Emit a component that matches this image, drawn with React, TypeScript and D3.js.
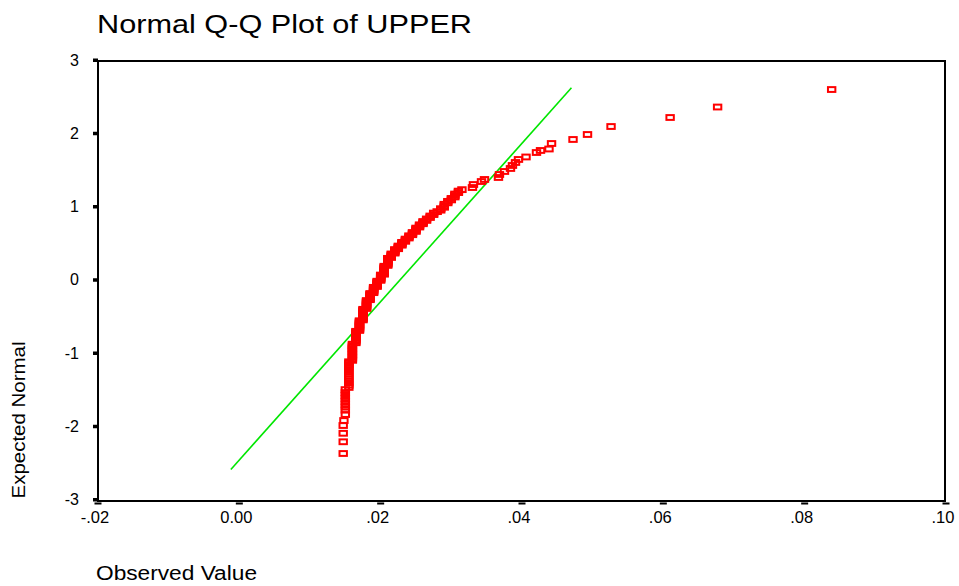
import * as d3 from 'd3';

const observed = [
  // lower tail
  0.0147, 0.0147, 0.0147, 0.0147, 0.0148, 0.015,
  // dense part
  0.015, 0.015, 0.015, 0.015, 0.015, 0.015, 0.015, 0.015,
  0.0155, 0.0155, 0.0155, 0.0155, 0.0155, 0.0155, 0.0155, 0.0155, 0.0155, 0.0155,
  0.0155, 0.0155, 0.0155, 0.0155,
  0.016, 0.016, 0.016, 0.016, 0.016, 0.016, 0.016, 0.016, 0.016, 0.016, 0.016, 0.016,
  0.0165, 0.0165, 0.0165, 0.0165,
  0.0165, 0.0165, 0.0165, 0.0165, 0.0165, 0.0165, 0.0165, 0.0165,
  0.017, 0.017, 0.017, 0.017, 0.017, 0.017, 0.017, 0.017, 0.017, 0.017, 0.017, 0.017,
  0.0175, 0.0175, 0.0175, 0.0175, 0.0175, 0.0175, 0.0175, 0.0175, 0.0175, 0.0175, 0.0175, 0.0175, 0.0175,
  0.018, 0.018, 0.018, 0.018, 0.018, 0.018, 0.018, 0.018, 0.018, 0.018,
  0.0185, 0.0185, 0.0185, 0.0185, 0.0185, 0.0185, 0.0185, 0.0185,
  0.019, 0.019, 0.019, 0.019, 0.019, 0.019, 0.019,
  0.0195, 0.0195, 0.0195, 0.0195, 0.0195, 0.0195, 0.0195,
  0.02, 0.02, 0.02, 0.02, 0.02, 0.02, 0.02,
  0.0205, 0.0205, 0.0205, 0.0205, 0.0205, 0.0205, 0.0205, 0.0205, 0.0205, 0.0205,
  0.021, 0.021, 0.021, 0.021, 0.021, 0.021, 0.021, 0.021, 0.021,
  0.0215, 0.0215, 0.0215, 0.0215, 0.0215,
  0.022, 0.022, 0.022, 0.022, 0.022,
  0.0225, 0.0225, 0.0225, 0.0225,
  0.023, 0.023, 0.023,
  0.023, 0.0235, 0.0235, 0.0235, 0.024, 0.024, 0.024, 0.0245, 0.0245, 0.0245,
  0.025, 0.025, 0.025, 0.025, 0.0255, 0.0255, 0.0255, 0.026, 0.026, 0.026,
  0.0265, 0.0265, 0.027, 0.027, 0.0275, 0.0275, 0.028, 0.0285, 0.0285,
  0.029, 0.029, 0.029, 0.0295, 0.0295, 0.03, 0.03, 0.0305, 0.0305, 0.0305,
  0.031, 0.031, 0.0315,
  // upper tail
  0.03299, 0.03313, 0.03427, 0.03469, 0.03667, 0.03681, 0.03752, 0.03837, 0.03865, 0.03908,
  0.0395, 0.04057, 0.04205, 0.04262, 0.04382, 0.04418, 0.04722, 0.04927, 0.0526, 0.06096,
  0.06768, 0.08382,
];

const expected = [
  // lower tail
  -2.372, -2.212, -2.096, -1.99, -1.922, -1.84,
  // dense part
  -1.78, -1.74, -1.7, -1.66, -1.62, -1.58, -1.54, -1.5,
  -1.47, -1.44, -1.41, -1.38, -1.35, -1.32, -1.29, -1.26, -1.23, -1.2,
  -1.18, -1.16, -1.14, -1.12,
  -1.1, -1.08, -1.06, -1.04, -1.02, -1.0, -0.98, -0.96, -0.94, -0.92, -0.9, -0.88,
  -0.86, -0.84, -0.82, -0.8,
  -0.788, -0.776, -0.764, -0.752, -0.74, -0.728, -0.716, -0.704,
  -0.692, -0.68, -0.668, -0.656, -0.644, -0.632, -0.62, -0.608, -0.596, -0.584, -0.572, -0.56,
  -0.548, -0.536, -0.524, -0.512, -0.5, -0.488, -0.476, -0.464, -0.452, -0.44, -0.428, -0.416, -0.404,
  -0.392, -0.38, -0.368, -0.356, -0.344, -0.332, -0.32, -0.308, -0.296, -0.284,
  -0.272, -0.26, -0.248, -0.236, -0.224, -0.212, -0.2, -0.188,
  -0.176, -0.164, -0.152, -0.14, -0.128, -0.116, -0.104,
  -0.092, -0.08, -0.068, -0.056, -0.044, -0.032, -0.02,
  -0.008, 0.004, 0.016, 0.028, 0.04, 0.052, 0.064,
  0.076, 0.088, 0.1, 0.112, 0.124, 0.136, 0.148, 0.16, 0.172, 0.184,
  0.196, 0.208, 0.22, 0.232, 0.244, 0.256, 0.268, 0.28, 0.292,
  0.304, 0.316, 0.328, 0.34, 0.352,
  0.364, 0.376, 0.388, 0.4, 0.412,
  0.424, 0.436, 0.448, 0.46,
  0.472, 0.484, 0.496,
  0.51, 0.525, 0.54, 0.555, 0.57, 0.585, 0.6, 0.615, 0.63, 0.645,
  0.66, 0.675, 0.69, 0.705, 0.72, 0.735, 0.75, 0.765, 0.78, 0.795,
  0.81, 0.83, 0.85, 0.87, 0.89, 0.91, 0.93, 0.95, 0.97,
  0.99, 1.01, 1.03, 1.05, 1.07, 1.09, 1.11, 1.13, 1.15, 1.17,
  1.19, 1.21, 1.23,
  // upper tail
  1.259, 1.3, 1.341, 1.369, 1.396, 1.437, 1.478, 1.519, 1.56, 1.601,
  1.642, 1.676, 1.737, 1.765, 1.785, 1.86, 1.915, 1.983, 2.092, 2.215,
  2.358, 2.597,
];

// reference normal line end points
const lineX = [-0.0012, 0.047];
const lineZ = [-2.59, 2.62];

const xTicks = [-0.02, 0, 0.02, 0.04, 0.06, 0.08, 0.1];
const xTickLabels = ['-.02', '0.00', '.02', '.04', '.06', '.08', '.10'];
const yTicks = [-3, -2, -1, 0, 1, 2, 3];

export default function App() {
  const W = 959;
  const H = 586;
  const x = d3.scaleLinear().domain([-0.02, 0.1]).range([98, 946]);
  const y = d3.scaleLinear().domain([-3, 3]).range([499.5, 60]);
  const font = '"Liberation Sans", Arial, Helvetica, sans-serif';

  const pts = observed.map((v, i) => ({ v, z: expected[i] }));
  const line = d3.line<number>()
    .x((d) => x(d))
    .y((d, i) => y(lineZ[i]));

  return (
    <svg width={W} height={H} style={{ position: 'absolute', left: 0, top: 0, background: '#fff' }}
      fontFamily={font}>
      <rect width={W} height={H} fill="#fff" />
      <text x={97} y={33} fontSize={26} textLength={375} lengthAdjust="spacingAndGlyphs">Normal Q-Q Plot of UPPER</text>

      {/* frame */}
      <rect x={98} y={61} width={847} height={440} fill="none" stroke="#000" strokeWidth={2} />

      {/* y ticks */}
      {yTicks.map((t) => (
        <g key={'y' + t}>
          <rect x={93} y={y(t) - 1.5} width={5} height={3.5} fill="#000" />
          <text x={79} y={y(t)} fontSize={16} textAnchor="end" dominantBaseline="central">{t}</text>
        </g>
      ))}

      {/* x ticks */}
      {xTicks.map((t, i) => (
        <g key={'x' + i}>
          <rect x={x(t) - 3.5} y={502.5} width={7} height={2} fill="#000" />
          <text x={x(t) - 3} y={523} fontSize={16.5} textAnchor="middle">{xTickLabels[i]}</text>
        </g>
      ))}

      <text transform="translate(25,420) rotate(-90)" fontSize={18} textAnchor="middle"
        textLength={157} lengthAdjust="spacingAndGlyphs">Expected Normal</text>
      <text x={96} y={580} fontSize={20} textLength={161} lengthAdjust="spacingAndGlyphs">Observed Value</text>

      <path d={line(lineX) || ''} fill="none" stroke="#00e600" strokeWidth={1.6} />

      {pts.map((p, i) => (
        <rect key={i} x={x(p.v) - 3.7} y={y(p.z) - 2.4} width={7.4} height={4.8}
          fill="none" stroke="#ff0000" strokeWidth={2} />
      ))}
    </svg>
  );
}
